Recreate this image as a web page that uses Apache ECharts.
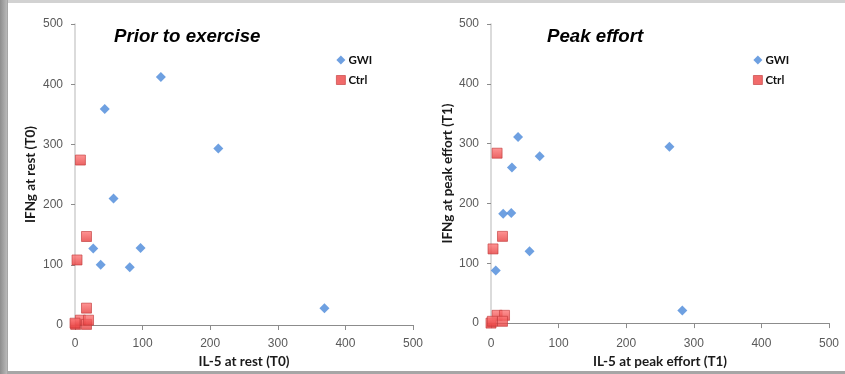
<!DOCTYPE html>
<html>
<head>
<meta charset="utf-8">
<script src="https://cdn.jsdelivr.net/npm/echarts@6/dist/echarts.min.js"></script>
<style>
  html, body { margin: 0; padding: 0; background: #fff; }
  #chart { width: 845px; height: 374px; }
</style>
</head>
<body>
<div id="chart"></div>
<script>
// Axis ticks shared by both panels
const axisTicks = [0, 100, 200, 300, 400, 500];

// Panel titles and axis names
const panelTitles = ['Prior to exercise', 'Peak effort'];
const xNames = ['IL-5 at rest (T0)', 'IL-5 at peak effort (T1)'];
const yNames = ['IFNg at rest (T0)', 'IFNg at peak effort (T1)'];
const groupNames = ['GWI', 'Ctrl'];

// Resting values (T0)
const gwiRestIL5  = [127, 44, 212, 57, 27, 97, 38, 81, 369];
const gwiRestIFNg = [412, 359, 293, 210, 127, 128, 100, 96, 28];
const ctrlRestIL5  = [8, 17, 3, 17, 1, 8, 17, 20, 0];
const ctrlRestIFNg = [274, 147, 108, 28, 1, 8, 1, 8, 3];

// Peak effort values (T1)
const gwiPeakIL5  = [40, 264, 72, 31, 18, 30, 57, 7, 283];
const gwiPeakIFNg = [311, 295, 279, 260, 183, 184, 120, 88, 21];
const ctrlPeakIL5  = [9, 17, 3, 9, 20, 17, 0, 2];
const ctrlPeakIFNg = [284, 145, 124, 13, 13, 3, 0, 3];

const pairs = (xs, ys) => xs.map((x, i) => [x, ys[i]]);

const chart = echarts.init(document.getElementById('chart'), null, { renderer: 'canvas' });

const tickFont = { color: '#595959', fontSize: 12, fontFamily: 'Liberation Sans' };
const nameFont = { color: '#1a1a1a', fontSize: 13.5, fontWeight: 'bold', fontFamily: 'Lato' };

function xAxisFor(idx, gap, labelMargin) {
  return {
    gridIndex: idx, type: 'value', min: axisTicks[0], max: axisTicks[axisTicks.length - 1], interval: 100,
    name: xNames[idx], nameLocation: 'middle', nameGap: gap, nameTextStyle: nameFont,
    axisLine: { show: true, onZero: false, lineStyle: { color: '#8c8c8c', width: 1 } },
    axisTick: { show: true, inside: false, length: 5, lineStyle: { color: '#8c8c8c' } },
    axisLabel: Object.assign({ margin: labelMargin }, tickFont),
    splitLine: { show: false }
  };
}
function yAxisFor(idx, gap) {
  return {
    gridIndex: idx, type: 'value', min: axisTicks[0], max: axisTicks[axisTicks.length - 1], interval: 100,
    name: yNames[idx], nameLocation: 'middle', nameGap: gap, nameTextStyle: nameFont,
    axisLine: { show: true, onZero: false, lineStyle: { color: '#cfcfcf', width: 1.5 } },
    axisTick: { show: true, inside: false, length: 4, lineStyle: { color: '#8c8c8c' } },
    axisLabel: Object.assign({ margin: 12 }, tickFont),
    splitLine: { show: false }
  };
}

const gwiStyle = { color: '#4a88d9' };
const ctrlStyle = {
  color: new echarts.graphic.LinearGradient(0, 0, 0, 1, [
    { offset: 0, color: '#ff7a7a' },
    { offset: 1, color: '#e53a3a' }
  ]),
  borderColor: '#c23a3a', borderWidth: 0.8
};

function legendAt(left) {
  return {
    left: left, top: 49, orient: 'vertical', itemGap: 8, itemWidth: 9, itemHeight: 9,
    selectedMode: false,
    textStyle: { color: '#111', fontSize: 11.5, fontWeight: 'bold', fontFamily: 'Lato', padding: [0, 0, 0, -2] },
    data: [
      { name: groupNames[0], icon: 'diamond', itemStyle: { color: '#4a88d9' } },
      { name: groupNames[1], icon: 'rect', itemStyle: { color: '#ee4545', borderColor: '#c23a3a', borderWidth: 0.8 } }
    ]
  };
}

chart.setOption({
  backgroundColor: '#ffffff',
  animation: false,
  graphic: [
    // page frame: grey strip on the left, thin bands top and bottom
    { type: 'rect', left: 0, top: 0, shape: { width: 845, height: 3 }, style: { fill: '#d2d2d2' } },
    { type: 'rect', left: 0, top: 371, shape: { width: 845, height: 3 }, style: { fill: '#a6a6a6' } },
    {
      type: 'rect', left: 0, top: 0, shape: { width: 8, height: 374 },
      style: {
        fill: new echarts.graphic.LinearGradient(0, 0, 1, 0, [
          { offset: 0, color: '#8e8e8e' },
          { offset: 0.85, color: '#b8b8b8' },
          { offset: 1, color: '#9a9a9a' }
        ])
      }
    }
  ],
  title: [
    { text: panelTitles[0], left: 109, top: 22, textStyle: { fontFamily: 'Liberation Sans', fontSize: 18.7, fontStyle: 'italic', fontWeight: 'bold', color: '#000' } },
    { text: panelTitles[1], left: 542, top: 22, textStyle: { fontFamily: 'Liberation Sans', fontSize: 18.7, fontStyle: 'italic', fontWeight: 'bold', color: '#000' } }
  ],
  legend: [legendAt(331), legendAt(748)],
  grid: [
    { left: 75, top: 24, width: 338, height: 302 },
    { left: 491, top: 24, width: 338, height: 300 }
  ],
  xAxis: [xAxisFor(0, 30, 13), xAxisFor(1, 31, 15)],
  yAxis: [yAxisFor(0, 37), yAxisFor(1, 36)],
  series: [
    { name: groupNames[0], type: 'scatter', xAxisIndex: 0, yAxisIndex: 0, symbol: 'diamond', symbolSize: 10, itemStyle: gwiStyle, data: pairs(gwiRestIL5, gwiRestIFNg), z: 3, clip: false },
    { name: groupNames[1], type: 'scatter', xAxisIndex: 0, yAxisIndex: 0, symbol: 'rect', symbolSize: 10, itemStyle: ctrlStyle, data: pairs(ctrlRestIL5, ctrlRestIFNg), z: 4, clip: false },
    { name: groupNames[0], type: 'scatter', xAxisIndex: 1, yAxisIndex: 1, symbol: 'diamond', symbolSize: 10, itemStyle: gwiStyle, data: pairs(gwiPeakIL5, gwiPeakIFNg), z: 3, clip: false },
    { name: groupNames[1], type: 'scatter', xAxisIndex: 1, yAxisIndex: 1, symbol: 'rect', symbolSize: 10, itemStyle: ctrlStyle, data: pairs(ctrlPeakIL5, ctrlPeakIFNg), z: 4, clip: false }
  ]
});
</script>
</body>
</html>
